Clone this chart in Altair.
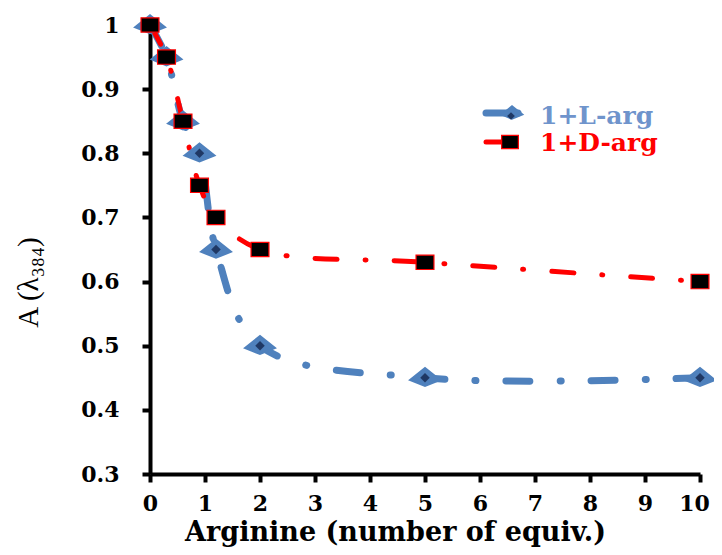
import altair as alt
import pandas as pd

# Data
equiv = [0, 0.3, 0.6, 0.9, 1.2, 2, 5, 10]
abs_L = [1.0, 0.95, 0.85, 0.80, 0.65, 0.50, 0.45, 0.45]
abs_D = [1.0, 0.95, 0.85, 0.75, 0.70, 0.65, 0.63, 0.60]
series_names = ["1+L-arg", "1+D-arg"]
y_ticks = [0.3, 0.4, 0.5, 0.6, 0.7, 0.8, 0.9, 1.0]
x_ticks = list(range(0, 11))

BLUE = "#4f81bd"
NAVY = "#1f3864"
RED = "#ff0000"
FONT = "DejaVu Serif"
TFONT = "Liberation Serif"
DIAMOND = "M-1,0.15L0,-0.65L1,0.15L0,0.55Z"
RECT = "M-1,-0.8L1,-0.8L1,0.8L-1,0.8Z"

dfL = pd.DataFrame({"x": equiv, "y": abs_L})
dfD = pd.DataFrame({"x": equiv, "y": abs_D})

xs = alt.Scale(domain=[0, 10], nice=False)
ys = alt.Scale(domain=[0.3, 1.0], nice=False, zero=False)

x_axis = alt.Axis(
    values=x_ticks, title="Arginine (number of equiv.)", grid=False,
    domainColor="black", domainWidth=4, tickColor="black", tickWidth=4, tickSize=8,
    labelFont=FONT, labelFontSize=22, labelFontWeight="bold", labelColor="black",
    labelPadding=11, labelFlush=False,
    labelOffset={"condition": {"test": "datum.value == 10", "value": -6}, "value": 0},
    titleFont=FONT, titleFontSize=27, titleFontWeight="bold", titleColor="black",
    titleX=245, titleY=66, titleAlign="center", titleBaseline="alphabetic",
)
y_axis = alt.Axis(
    values=y_ticks, title="A (λ₃₈₄)", grid=False, format="~g",
    domainColor="black", domainWidth=4, tickColor="black", tickWidth=4, tickSize=8,
    labelFont=FONT, labelFontSize=22, labelFontWeight="bold", labelColor="black",
    labelPadding=23,
    titleFont=TFONT, titleFontSize=29, titleFontWeight="normal", titleColor="black",
    titleX=-122, titleY=257, titleAngle=270, titleAlign="center", titleBaseline="middle",
)

base_L = alt.Chart(dfL)
base_D = alt.Chart(dfD)

line_L = base_L.mark_line(
    color=BLUE, strokeWidth=7, strokeDash=[24, 30, 1, 30], strokeCap="round",
    interpolate="catmull-rom",
).encode(x=alt.X("x:Q", scale=xs, axis=x_axis), y=alt.Y("y:Q", scale=ys, axis=y_axis))

line_D = base_D.mark_line(
    color=RED, strokeWidth=5, strokeDash=[22, 28, 1, 28], strokeCap="round",
    interpolate="catmull-rom",
).encode(x=alt.X("x:Q", scale=xs), y=alt.Y("y:Q", scale=ys))

pts_L_big = base_L.mark_point(
    shape=DIAMOND, filled=True, color=BLUE, size=900, opacity=1,
    stroke=BLUE, strokeWidth=2,
).encode(x=alt.X("x:Q", scale=xs), y=alt.Y("y:Q", scale=ys))

pts_L_small = base_L.mark_point(
    shape="diamond", filled=True, color=NAVY, size=90, opacity=1,
).encode(x=alt.X("x:Q", scale=xs), y=alt.Y("y:Q", scale=ys))

pts_D = base_D.mark_point(
    shape=RECT, filled=True, fill="black", stroke=RED, strokeWidth=1.2, size=320, opacity=1,
).encode(x=alt.X("x:Q", scale=xs), y=alt.Y("y:Q", scale=ys))

# Custom legend (placed in pixel space of the plot area)
leg = pd.DataFrame({"name": series_names})
legL = alt.Chart(leg).transform_filter(alt.datum.name == series_names[0])
legD = alt.Chart(leg).transform_filter(alt.datum.name == series_names[1])

legL_line = legL.mark_rule(color=BLUE, strokeWidth=7, strokeCap="round").encode(
    x=alt.value(336), x2=alt.value(368), y=alt.value(88))
legL_big = legL.mark_point(
    shape=DIAMOND, filled=True, color=BLUE, size=600, opacity=1
).encode(x=alt.value(362), y=alt.value(88))
legL_small = legL.mark_point(shape="diamond", filled=True, color=NAVY, size=60, opacity=1).encode(
    x=alt.value(361), y=alt.value(91))
legL_text = legL.mark_text(
    align="left", baseline="alphabetic", font=FONT, fontSize=25, fontWeight="bold", color="#6f94cc"
).encode(x=alt.value(390), y=alt.value(99), text="name:N")

legD_line = legD.mark_rule(color=RED, strokeWidth=5, strokeCap="round").encode(
    x=alt.value(336), x2=alt.value(356), y=alt.value(117))
legD_pt = legD.mark_point(
    shape=RECT, filled=True, fill="black", stroke=RED, strokeWidth=1.2, size=280, opacity=1
).encode(x=alt.value(360), y=alt.value(117))
legD_text = legD.mark_text(
    align="left", baseline="alphabetic", font=FONT, fontSize=25, fontWeight="bold", color=RED
).encode(x=alt.value(390), y=alt.value(126), text="name:N")

chart = alt.layer(
    line_L, line_D, pts_L_big, pts_L_small, pts_D,
    legL_line, legL_big, legL_small, legL_text,
    legD_line, legD_pt, legD_text,
).properties(
    width=550, height=449,
    autosize=alt.AutoSizeParams(type="none"),
    padding={"left": 142, "top": 17, "right": 14, "bottom": 73},
    background="white",
).configure_view(stroke=None)

chart.save("out.html", embed_options={"renderer": "svg", "actions": False})
